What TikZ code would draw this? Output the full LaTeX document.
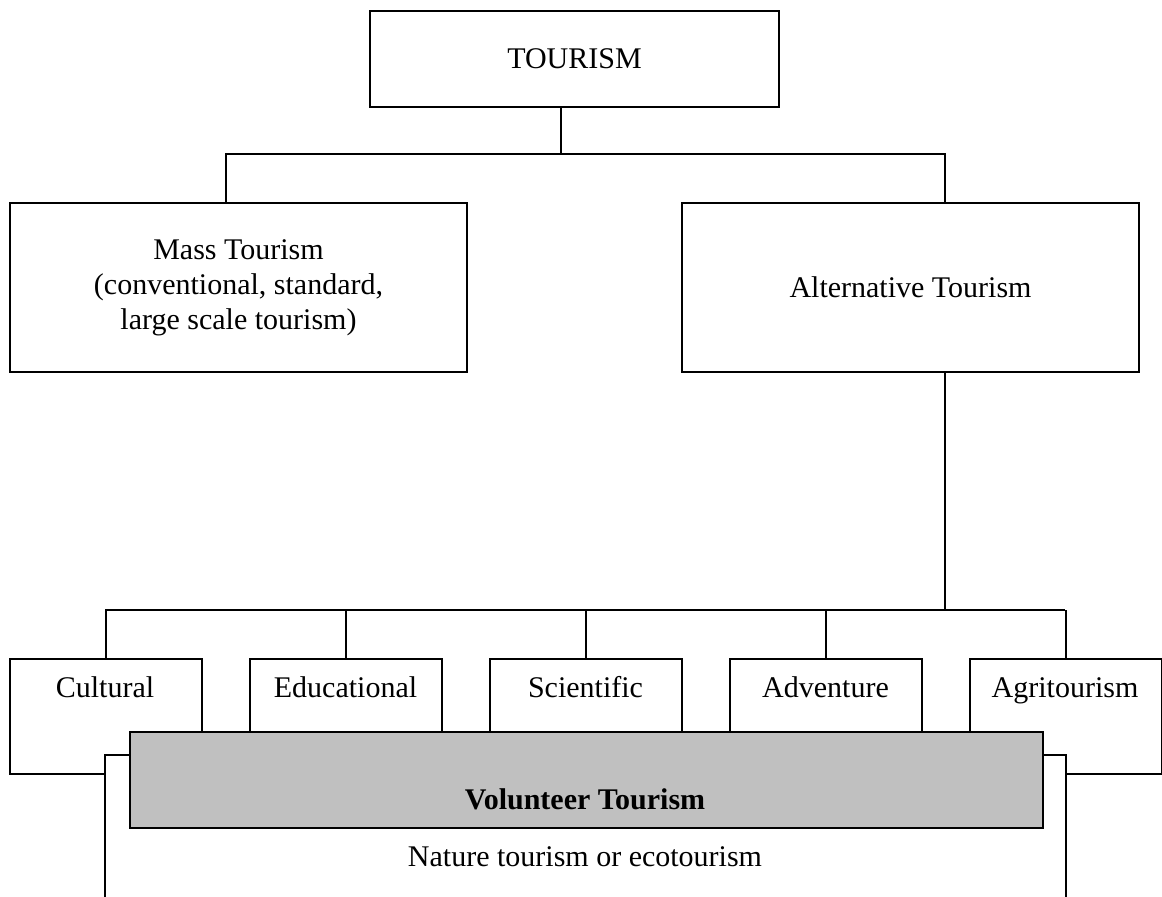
\documentclass[tikz,border=0pt]{standalone}
\usepackage{fontspec}
\setmainfont{Liberation Serif}
\definecolor{volgrey}{RGB}{192,192,192}
\begin{document}
\begin{tikzpicture}[x=0.5pt,y=-0.5pt,
  box/.style={draw, line width=1pt, fill=white, inner sep=0pt, align=center,
    font=\fontsize{15}{17.5}\selectfont},
  smallbox/.style={box, minimum width=96pt, minimum height=57.5pt, anchor=north west},
  lbl/.style={inner sep=0pt, anchor=base, font=\fontsize{15}{17.5}\selectfont},
  link/.style={line width=1pt}]
\useasboundingbox (0,0) rectangle (1162,896);

% top level
\node[box, anchor=north west, minimum width=204.5pt, minimum height=48pt] (tour) at (369,10) {TOURISM};
\node[box, anchor=north west, minimum width=228.5pt, minimum height=84.5pt] (mass) at (9,202)
  {Mass Tourism\\(conventional, standard,\\large scale tourism)};
\node[box, anchor=north west, minimum width=228.5pt, minimum height=84.5pt] (alt) at (681,202)
  {Alternative Tourism};

\coordinate (jt) at (561,154);
\coordinate (jm) at (226,154);
\coordinate (ja) at (945,154);
\draw[link] (tour.south -| jt) -- (jt);
\draw[link] (mass.north -| jm) -- (jm) -- (ja) -- (alt.north -| ja);

% second level boxes
\node[smallbox] (cult) at (9,658) {};
\node[smallbox] (edu)  at (249,658) {};
\node[smallbox] (sci)  at (489,658) {};
\node[smallbox] (adv)  at (729,658) {};
\node[smallbox] (agri) at (969,658) {};

\coordinate (jb) at (945,610);
\coordinate (b1) at (105,610);
\coordinate (b5) at (1065,610);
\draw[link] (alt.south -| jb) -- (jb);
\draw[link] (b1) -- (b5);
\foreach \n in {cult,edu,sci,adv,agri}
  \draw[link] (\n.north) -- (\n.north |- b1);

\node[lbl] (cultT) at (105,697) {Cultural};
\node[lbl] (eduT)  at (345.5,697) {Educational};
\node[lbl] (sciT)  at (585.5,697) {Scientific};
\node[lbl] (advT)  at (825.5,697) {Adventure};
\node[lbl] (agriT) at (1065,697) {Agritourism};

% nature tourism box (open at the bottom)
\node[fill=white, draw=none, inner sep=0pt, anchor=north west,
  minimum width=480pt, minimum height=70.5pt] (nat) at (105,755) {};
\draw[link] (nat.south west) -- (nat.north west) -- (nat.north east) -- (nat.south east);
\node[lbl] (natT) at (585,866) {Nature tourism or ecotourism};

% volunteer tourism
\node[box, fill=volgrey, anchor=north west, minimum width=456.5pt, minimum height=48pt] (vol) at (129,731) {};
\node[lbl, font=\fontsize{15}{17.5}\selectfont\bfseries] (volT) at (585,809) {Volunteer Tourism};
\end{tikzpicture}
\end{document}
